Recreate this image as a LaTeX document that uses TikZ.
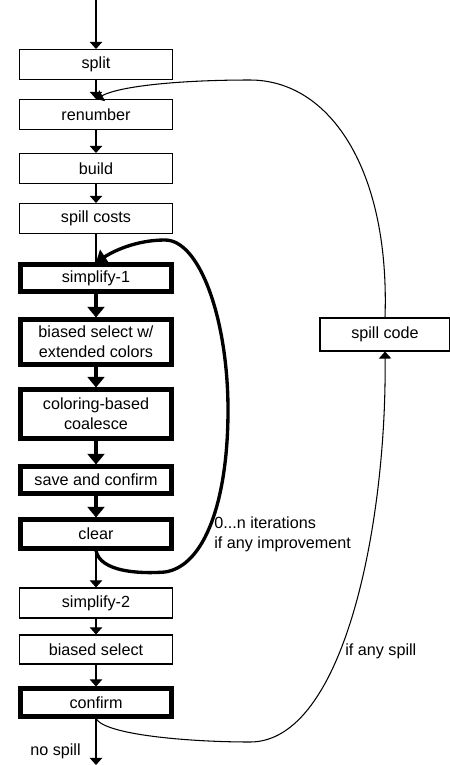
\documentclass[tikz,border=0pt]{standalone}
\usepackage{fontspec}
\setmainfont{Liberation Sans}
\usetikzlibrary{arrows.meta}
\tikzstyle{box} = [rectangle, draw=black, line width=0.6pt, minimum height=0.6cm, minimum width=3.06cm, text centered, align=center, inner sep=1pt, font=\fontsize{9.2}{11.5}\selectfont]
\tikzstyle{boldbox} = [box, line width=2.3pt, minimum width=3.02cm, minimum height=0.54cm]
\tikzstyle{flow} = [line width=0.6pt, -{Triangle[width=7pt,length=4pt]}]
\tikzstyle{boldflow} = [line width=1.9pt, -{Triangle[width=9.5pt,length=6pt]}]
\tikzstyle{lbl} = [font=\fontsize{9.2}{11.5}\selectfont, align=left, inner sep=0pt]

\begin{document}
\begin{tikzpicture}[x=0.02cm, y=-0.02cm]

            \useasboundingbox (0,0) rectangle (450,765);

            \coordinate (in) at (96,0);
            \coordinate (out) at (96,765);

            \node (split) [box] at (96,64.5) {split};
            \node (renumber) [box] at (96,114.5) {renumber};
            \node (build) [box] at (96,168.5) {build};
            \node (costs) [box] at (96,218.5) {spill costs};

            %% coalescing loop
            \node (simp1) [boldbox] at (96,278) {simplify-1};
            \node (bsel1) [boldbox, minimum height=0.9cm] at (96,342) {biased select w/\\extended colors};
            \node (coal) [boldbox, minimum height=0.98cm] at (96,414) {coloring-based\\coalesce};
            \node (save) [boldbox] at (96,480) {save and confirm};
            \node (clear) [boldbox, minimum height=0.58cm] at (96,534) {clear};

            \node (simp2) [box] at (96,603) {simplify-2};
            \node (bsel2) [box, minimum height=0.58cm] at (96,649.5) {biased select};
            \node (confirm) [boldbox, minimum height=0.56cm] at (96,702.5) {confirm};

            \node (spillcode) [box, minimum width=2.6cm, minimum height=0.66cm] at (385,334.5) {spill code};

            \draw [flow] (in) -- (split);
            \draw [flow] (split) -- (renumber);
            \draw [flow] (renumber) -- (build);
            \draw [flow] (build) -- (costs);
            \draw [line width=0.6pt] (costs) -- (simp1);
            \draw [boldflow] (simp1) -- (bsel1);
            \draw [boldflow] (bsel1) -- (coal);
            \draw [boldflow] (coal) -- (save);
            \draw [boldflow] (save) -- (clear);
            \draw [flow] (clear) -- (simp2);
            \draw [flow] (simp2) -- (bsel2);
            \draw [flow] (bsel2) -- (confirm);
            \draw [flow] (confirm) -- (out);

            \coordinate (loopR) at (228,410);
            \draw [boldflow] (clear.south) .. controls (100,572) and (140,574) .. (165,572)
                .. controls (205,566) and (228,500) .. (loopR)
                .. controls (228,320) and (200,240) .. (165,240)
                .. controls (135,240) and (112,252) .. (simp1.north);

            \coordinate (lowR) at (250,742);
            \coordinate (highR) at (250,80);
            \draw [flow] (confirm.south) .. controls (105,735) and (190,742) .. (lowR)
                .. controls (345,742) and (387,520) .. (spillcode.south);
            \draw [flow] (spillcode.north) .. controls (390,170) and (330,80) .. (highR)
                .. controls (180,80) and (120,86) .. (renumber.north);

            \node [lbl, anchor=west] at (214,534) {0...n iterations\\if any improvement};
            \node [lbl, anchor=west] at (345,651) {if any spill};
            \node [lbl, anchor=east] at (81,751) {no spill};

        \end{tikzpicture}
\end{document}
